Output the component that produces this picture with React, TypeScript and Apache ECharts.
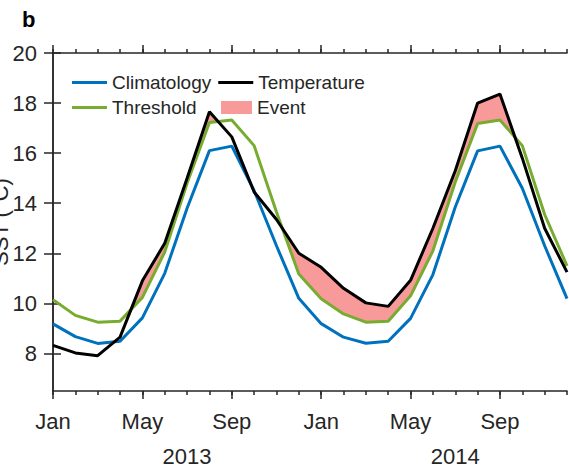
import React, { useEffect, useRef } from 'react';
import * as echarts from 'echarts';

// ---- data (month index 0 = Jan 2013 ... 23 = Dec 2014) ----
const monthIndex = [0, 1, 2, 3, 4, 5, 6, 7, 8, 9, 10, 11, 12, 13, 14, 15, 16, 17, 18, 19, 20, 21, 22, 23];
const climatology = [
  9.18, 8.67, 8.4, 8.49, 9.42, 11.2, 13.8, 16.1, 16.28, 14.5, 12.3, 10.2,
  9.19, 8.65, 8.41, 8.49, 9.4, 11.15, 13.85, 16.09, 16.28, 14.6, 12.3, 10.19,
];
const threshold = [
  10.15, 9.52, 9.25, 9.29, 10.24, 12.05, 14.8, 17.22, 17.32, 16.3, 13.65, 11.17,
  10.18, 9.58, 9.25, 9.29, 10.3, 12.1, 14.85, 17.18, 17.32, 16.3, 13.55, 11.5,
];
const temperature = [
  8.32, 8.02, 7.91, 8.65, 10.9, 12.4, 15.0, 17.65, 16.65, 14.45, 13.35, 12.0,
  11.44, 10.6, 10.02, 9.88, 10.92, 13.0, 15.3, 18.0, 18.36, 15.8, 13.0, 11.25,
];
const monthTickValues = [0, 4, 8, 12, 16, 20];
const monthTickLabels = ['Jan', 'May', 'Sep', 'Jan', 'May', 'Sep'];
const yearLabelValues = [6, 18];
const yearLabels = ['2013', '2014'];
const yTickValues = [8, 10, 12, 14, 16, 18, 20];

const FONT = '"Liberation Sans", Arial, Helvetica, sans-serif';
const AX = '#262626';
const BLUE = '#0072BD';
const GREEN = '#77AC30';
const BLACK = '#000000';
const PINK = '#F99A9A';

function eventPolygons(): number[][][] {
  const polys: number[][][] = [];
  let upper: number[][] = [];
  let lower: number[][] = [];
  const cross = (i: number) => {
    const d0 = temperature[i - 1] - threshold[i - 1];
    const d1 = temperature[i] - threshold[i];
    const t = d0 / (d0 - d1);
    return [monthIndex[i - 1] + t, threshold[i - 1] + t * (threshold[i] - threshold[i - 1])];
  };
  for (let i = 0; i < monthIndex.length; i++) {
    const d = temperature[i] - threshold[i];
    if (d > 0) {
      if (!upper.length && i > 0) {
        upper.push(cross(i));
      }
      upper.push([monthIndex[i], temperature[i]]);
      lower.push([monthIndex[i], threshold[i]]);
    } else if (upper.length) {
      upper.push(cross(i));
      polys.push(upper.concat(lower.slice().reverse()));
      upper = [];
      lower = [];
    }
  }
  if (upper.length) polys.push(upper.concat(lower.slice().reverse()));
  return polys;
}

export default function App() {
  const ref = useRef<HTMLDivElement>(null);
  useEffect(() => {
    if (!ref.current) return;
    const chart = echarts.init(ref.current, null, { renderer: 'svg' });
    const grid = { left: 53, right: 2, top: 53, bottom: 78 };
    const polys = eventPolygons();
    const legendText = { fontSize: 19, color: AX, fontFamily: FONT };
    const option: any = {
      animation: false,
      backgroundColor: '#ffffff',
      textStyle: { fontFamily: FONT },
      grid: [grid, { ...grid }],
      legend: [
        {
          data: [
            { name: 'Climatology', icon: 'rect' },
            { name: 'Temperature', icon: 'rect' },
          ],
          left: 67, top: 68, itemWidth: 35, itemHeight: 3, itemGap: 7,
          selectedMode: false, textStyle: legendText,
        },
        {
          data: [{ name: 'Threshold', icon: 'rect' }],
          left: 67, top: 93, itemWidth: 35, itemHeight: 3,
          selectedMode: false, textStyle: legendText,
        },
        {
          data: [{ name: 'Event', icon: 'rect', itemStyle: { color: PINK } }],
          left: 216, top: 93, itemWidth: 31, itemHeight: 13,
          selectedMode: false, textStyle: legendText,
        },
      ],
      xAxis: [
        {
          gridIndex: 0, type: 'value', position: 'bottom', min: 0, max: 23,
          axisLine: { show: true, lineStyle: { color: AX, width: 1.5 } },
          axisTick: { show: true, customValues: monthTickValues, length: 8, lineStyle: { color: AX, width: 1.5 } },
          axisLabel: {
            show: true, customValues: monthTickValues, margin: 19, fontSize: 22, color: AX, fontFamily: FONT,
            formatter: (v: number) => monthTickLabels[monthTickValues.indexOf(v)] ?? '',
          },
          splitLine: { show: false },
        },
        {
          gridIndex: 0, type: 'value', position: 'top', min: 0, max: 23,
          axisLine: { show: true, lineStyle: { color: AX, width: 1.5 } },
          axisTick: { show: true, customValues: monthTickValues, length: 8, lineStyle: { color: AX, width: 1.5 } },
          axisLabel: { show: false },
          splitLine: { show: false },
        },
        {
          gridIndex: 1, type: 'value', position: 'bottom', min: 0, max: 23, interval: 1,
          axisLine: { show: false },
          axisTick: { show: true, length: 4, lineStyle: { color: AX, width: 1.5 } },
          axisLabel: {
            show: true, customValues: yearLabelValues, margin: 54, fontSize: 22, color: AX, fontFamily: FONT,
            formatter: (v: number) => yearLabels[yearLabelValues.indexOf(v)] ?? '',
          },
          splitLine: { show: false },
        },
        {
          gridIndex: 1, type: 'value', position: 'top', min: 0, max: 23, interval: 1,
          axisLine: { show: false },
          axisTick: { show: true, length: 4, lineStyle: { color: AX, width: 1.5 } },
          axisLabel: { show: false },
          splitLine: { show: false },
        },
      ],
      yAxis: [
        {
          gridIndex: 0, type: 'value', position: 'left', min: 6.5, max: 20,
          axisLine: { show: true, lineStyle: { color: AX, width: 1.5 } },
          axisTick: { show: true, customValues: yTickValues, length: 9, lineStyle: { color: AX, width: 1.5 } },
          axisLabel: { show: true, customValues: yTickValues, margin: 16, fontSize: 22, color: AX, fontFamily: FONT },
          splitLine: { show: false },
        },
        {
          gridIndex: 0, type: 'value', position: 'right', min: 6.5, max: 20,
          axisLine: { show: true, lineStyle: { color: AX, width: 1.5 } },
          axisTick: { show: true, customValues: yTickValues, length: 8, lineStyle: { color: AX, width: 1.5 } },
          axisLabel: { show: false },
          splitLine: { show: false },
        },
        { gridIndex: 1, type: 'value', min: 6.5, max: 20, show: false },
      ],
      series: [
        {
          name: 'Event', type: 'custom', xAxisIndex: 0, yAxisIndex: 0, z: 1,
          itemStyle: { color: PINK },
          data: [[0, 10]],
          renderItem: (_p: any, api: any) => ({
            type: 'group',
            children: polys.map((poly) => ({
              type: 'polygon',
              shape: { points: poly.map((pt) => api.coord(pt)) },
              style: { fill: PINK, stroke: null },
            })),
          }),
        },
        {
          name: 'Climatology', type: 'line', xAxisIndex: 0, yAxisIndex: 0, z: 2,
          symbol: 'none', color: BLUE, lineStyle: { color: BLUE, width: 3 },
          data: monthIndex.map((m, i) => [m, climatology[i]]),
        },
        {
          name: 'Threshold', type: 'line', xAxisIndex: 0, yAxisIndex: 0, z: 3,
          symbol: 'none', color: GREEN, lineStyle: { color: GREEN, width: 3 },
          data: monthIndex.map((m, i) => [m, threshold[i]]),
        },
        {
          name: 'Temperature', type: 'line', xAxisIndex: 0, yAxisIndex: 0, z: 4,
          symbol: 'none', color: BLACK, lineStyle: { color: BLACK, width: 3 },
          data: monthIndex.map((m, i) => [m, temperature[i]]),
        },
      ],
      graphic: [
        {
          type: 'text', left: 22, top: 8,
          style: { text: 'b', font: `bold 22px ${FONT}`, fill: '#000' },
        },
        {
          type: 'text', x: 0, y: 222, rotation: Math.PI / 2,
          style: { text: 'SST (°C)', font: `22px ${FONT}`, fill: AX, align: 'center', verticalAlign: 'middle' },
        },
      ],
    };
    chart.setOption(option);
    return () => chart.dispose();
  }, []);
  return <div ref={ref} style={{ position: 'fixed', left: 0, top: 0, width: 569, height: 469 }} />;
}
